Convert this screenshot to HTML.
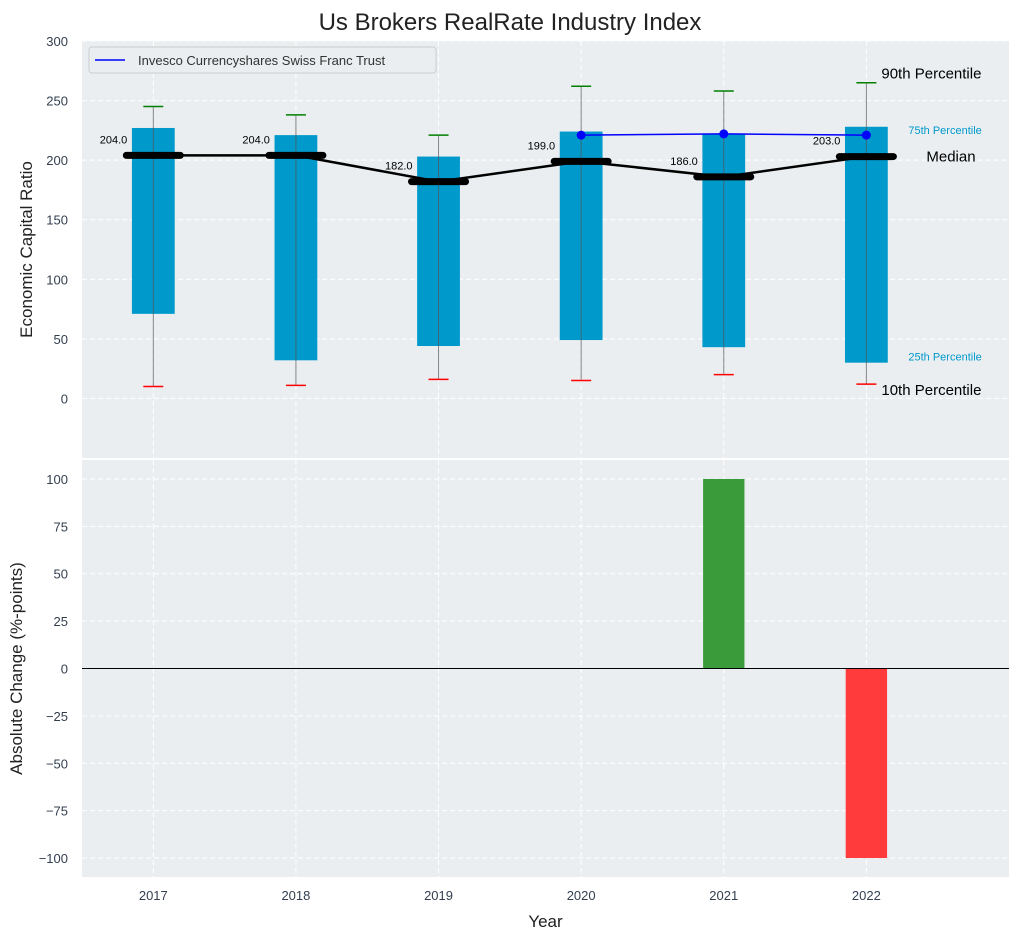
<!DOCTYPE html>
<html><head><meta charset="utf-8"><style>
body{margin:0;background:#fff;font-family:"Liberation Sans",sans-serif}
svg text{font-family:"Liberation Sans",sans-serif}
</style></head><body>
<svg id="c" width="1021" height="940" xmlns="http://www.w3.org/2000/svg"></svg>
<script>
const years=[2017,2018,2019,2020,2021,2022];
const p10=[10,11,16,15,20,12];
const p25=[71,32,44,49,43,30];
const med=[204,204,182,199,186,203];
const p75=[227,221,203,224,222,228];
const p90=[245,238,221,262,258,265];
const compYears=[2020,2021,2022];
const compVals=[221,222,221];
const chgYears=[2021,2022];
const chgVals=[100,-100];
const topTicks=[0,50,100,150,200,250,300];
const botTicks=[-100,-75,-50,-25,0,25,50,75,100];

const svg=document.getElementById('c');
const NS='http://www.w3.org/2000/svg';
function el(t,a,txt,parent){const e=document.createElementNS(NS,t);for(const k in a)e.setAttribute(k,a[k]);if(txt!==undefined)e.textContent=txt;(parent||svg).appendChild(e);return e;}
const L=82,R=1009;
const X=v=>L+(v-2016.5)/(2023-2016.5)*(R-L);
const T0=41,T1=458;const Yt=v=>T0+(300-v)/350*(T1-T0);
const B0=460,B1=877;const Yb=v=>B0+(110-v)/220*(B1-B0);

// backgrounds
let e=el('rect',{x:L,y:T0,width:R-L,height:T1-T0,fill:'#eaeef0'});

e=el('rect',{x:L,y:B0,width:R-L,height:B1-B0,fill:'#eaeef0'});


// grid
years.forEach(y=>{
  el('line',{x1:X(y),x2:X(y),y1:T0,y2:T1,stroke:'#fff','stroke-dasharray':'5,3'});
  el('line',{x1:X(y),x2:X(y),y1:B0,y2:B1,stroke:'#fff','stroke-dasharray':'5,3'});
  e=el('text',{x:X(y),y:B1+23,'text-anchor':'middle','font-size':13,fill:'#333f4f'},y);
  
});
topTicks.forEach(t=>{
  el('line',{x1:L,x2:R,y1:Yt(t),y2:Yt(t),stroke:'#fff','stroke-dasharray':'5,3'});
  e=el('text',{x:L-14,y:Yt(t)+5,'text-anchor':'end','font-size':13,fill:'#333f4f'},t);
  
});
botTicks.forEach(t=>{
  el('line',{x1:L,x2:R,y1:Yb(t),y2:Yb(t),stroke:'#fff','stroke-dasharray':'5,3'});
  e=el('text',{x:L-14,y:Yb(t)+5,'text-anchor':'end','font-size':13,fill:'#333f4f'},t<0?'\u2212'+(-t):t);
  
});

// boxes
const bw=(X(0.3)-X(0));
years.forEach((y,i)=>{
  e=el('rect',{x:X(y)-bw/2,y:Yt(p75[i]),width:bw,height:Yt(p25[i])-Yt(p75[i]),fill:'#0099cc'});
  
  e=el('line',{x1:X(y),x2:X(y),y1:Yt(p90[i]),y2:Yt(p10[i]),stroke:'#555','stroke-width':1,opacity:0.7});
  
  e=el('line',{x1:X(y)-10,x2:X(y)+10,y1:Yt(p90[i]),y2:Yt(p90[i]),stroke:'green','stroke-width':1.5});
  
  e=el('line',{x1:X(y)-10,x2:X(y)+10,y1:Yt(p10[i]),y2:Yt(p10[i]),stroke:'red','stroke-width':1.5});
  
});
// median line
e=el('polyline',{points:years.map((y,i)=>X(y)+','+Yt(med[i])).join(' '),fill:'none',stroke:'#000','stroke-width':2.5});

years.forEach((y,i)=>{
  e=el('line',{x1:X(y)-27,x2:X(y)+27,y1:Yt(med[i]),y2:Yt(med[i]),stroke:'#000','stroke-width':7,'stroke-linecap':'round'});
  
  e=el('text',{x:X(y)-26,y:Yt(med[i])-12,'text-anchor':'end','font-size':11,fill:'#000'},med[i].toFixed(1));
  
});
// company line
e=el('polyline',{points:compYears.map((y,i)=>X(y)+','+Yt(compVals[i])).join(' '),fill:'none',stroke:'#0000ff','stroke-width':1.5});

compYears.forEach((y,i)=>{
  e=el('circle',{cx:X(y),cy:Yt(compVals[i]),r:4.5,fill:'#0000ff'});
  
});
// annotations
const ax=X(2022);
[['90th Percentile',ax+15,Yt(p90[5])-4,15,'#000'],['75th Percentile',ax+42,Yt(p75[5])+7,11,'#0099cc'],['Median',ax+60,Yt(med[5])+5,15,'#000'],['25th Percentile',ax+42,Yt(p25[5])-2,11,'#0099cc'],['10th Percentile',ax+15,Yt(p10[5])+11,15,'#000']].forEach(a=>{
  e=el('text',{x:a[1],y:a[2],'font-size':a[3],fill:a[4]},a[0]);
  
});
// legend
e=el('rect',{x:89,y:47,width:347,height:26,rx:3,fill:'#eaeef0',stroke:'#ccc'});

el('line',{x1:95,x2:125,y1:60,y2:60,stroke:'#0000ff','stroke-width':1.5});
e=el('text',{x:138,y:65,'font-size':13,fill:'#333'},'Invesco Currencyshares Swiss Franc Trust');


// change bars
const cw=X(0.29)-X(0);
chgYears.forEach((y,i)=>{
  const v=chgVals[i];
  e=el('rect',{x:X(y)-cw/2,y:Math.min(Yb(v),Yb(0)),width:cw,height:Math.abs(Yb(v)-Yb(0)),fill:v>=0?'#3a9b3a':'#ff3b3b'});
  
});
el('line',{x1:L,x2:R,y1:Yb(0),y2:Yb(0),stroke:'#000','stroke-width':1});

// titles
e=el('text',{x:510,y:30,'text-anchor':'middle','font-size':24,fill:'#222'},'Us Brokers RealRate Industry Index');

e=el('text',{x:0,y:0,'text-anchor':'middle','font-size':17,fill:'#222',transform:'translate(32,'+((T0+T1)/2)+') rotate(-90)'},'Economic Capital Ratio');

e=el('text',{x:0,y:0,'text-anchor':'middle','font-size':17,fill:'#222',transform:'translate(22,'+((B0+B1)/2)+') rotate(-90)'},'Absolute Change (%-points)');

e=el('text',{x:(L+R)/2,y:927,'text-anchor':'middle','font-size':17,fill:'#222'},'Year');

</script>
</body></html>
